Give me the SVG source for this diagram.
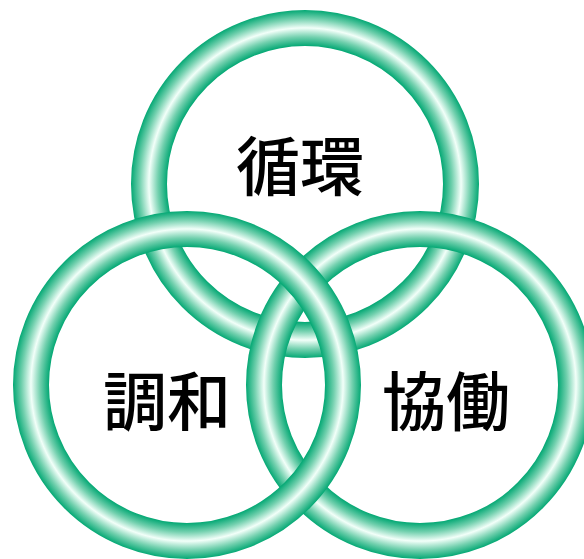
<svg xmlns="http://www.w3.org/2000/svg" width="584" height="559" viewBox="0 0 584 559">
<style>
.ring{fill:none;stroke-width:36}
.lbl{font-family:"Noto Sans CJK JP","Noto Sans CJK SC",sans-serif;font-size:64px;font-weight:500;fill:#000;text-anchor:middle;dominant-baseline:central}
</style>
<defs>
<radialGradient id="gT" gradientUnits="userSpaceOnUse" cx="305" cy="184" r="174">
<stop offset="0.793" stop-color="#04a874"/>
<stop offset="0.845" stop-color="#72d0ae"/>
<stop offset="0.897" stop-color="#f2fff9"/>
<stop offset="0.95" stop-color="#72d0ae"/>
<stop offset="1" stop-color="#04a874"/>
</radialGradient>
<radialGradient id="gL" href="#gT" cx="187" cy="385"/>
<radialGradient id="gR" href="#gT" cx="420" cy="385"/>
</defs>
<g id="ring-top"><circle class="ring" cx="305" cy="184" r="156" stroke="url(#gT)"/><text class="lbl" x="300" y="162">循環</text></g>
<g id="ring-right"><circle class="ring" cx="420" cy="385" r="156" stroke="url(#gR)"/><text class="lbl" x="446" y="397">協働</text></g>
<g id="ring-left"><circle class="ring" cx="187" cy="385" r="156" stroke="url(#gL)"/><text class="lbl" x="167" y="397">調和</text></g>
</svg>
